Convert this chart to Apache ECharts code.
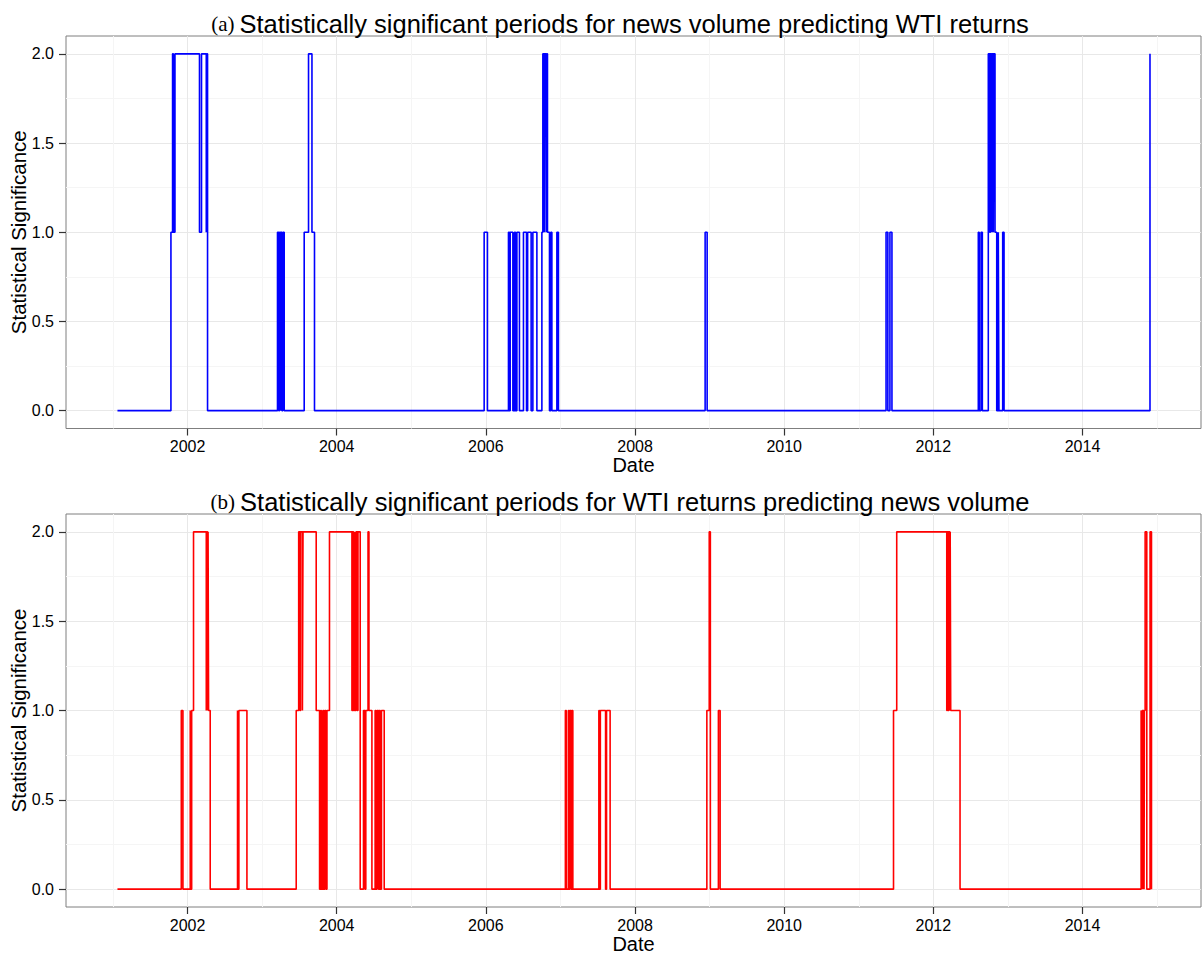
<!DOCTYPE html>
<html>
<head>
<meta charset="utf-8">
<script src="https://cdn.jsdelivr.net/npm/echarts@6/dist/echarts.min.js"></script>
<style>
html,body{margin:0;padding:0;background:#fff;}
#chart{width:1204px;height:953px;}
</style>
</head>
<body>
<div id="chart"></div>
<script>
// ---- data (decimal years where the significance level changes) ----
const datesA = [2001.06,2001.777,2001.799,2001.810,2001.831,2002.160,2002.187,2002.251,2002.258,2002.268,
  2003.206,2003.222,2003.233,2003.245,2003.253,2003.265,2003.278,2003.296,
  2003.564,2003.622,2003.668,2003.702,2005.977,2006.021,
  2006.303,2006.316,2006.326,2006.362,2006.383,2006.397,2006.416,2006.450,2006.504,2006.545,2006.560,2006.607,
  2006.630,2006.684,2006.751,2006.764,2006.782,2006.790,2006.808,2006.815,2006.826,2006.853,2006.870,2006.885,
  2006.952,2006.973,2008.940,2008.967,2011.366,2011.390,2011.418,2011.445,
  2012.603,2012.615,2012.639,2012.657,2012.737,2012.755,2012.765,2012.783,2012.790,2012.804,2012.812,2012.827,
  2012.850,2012.871,2012.880,2012.930,2012.948,2014.905];
const levelsA = [0,1,2,1,2,1,2,1,2,0,
  1,0,1,0,1,0,1,0,
  1,2,1,0,1,0,
  1,0,1,0,1,0,1,0,1,0,1,0,
  1,0,1,2,1,2,1,2,1,0,1,0,
  1,0,1,0,1,0,1,0,
  1,0,1,0,2,1,2,1,2,1,2,1,
  0,1,0,1,0,2];

const datesB = [2001.06,2001.916,2001.938,2002.036,2002.045,2002.055,2002.080,2002.251,2002.258,2002.268,2002.275,2002.282,2002.304,
  2002.670,2002.678,2002.688,2002.796,
  2003.457,2003.490,2003.505,2003.515,2003.540,2003.548,2003.725,2003.770,2003.785,2003.795,2003.815,2003.825,2003.840,2003.855,2003.869,2003.903,
  2004.204,2004.215,2004.225,2004.240,2004.248,2004.260,2004.275,2004.285,2004.315,
  2004.359,2004.380,2004.390,2004.420,2004.432,2004.472,2004.515,2004.525,2004.539,2004.560,2004.570,2004.583,2004.600,2004.637,
  2007.066,2007.079,2007.107,2007.120,2007.130,2007.145,2007.155,2007.166,
  2007.515,2007.525,2007.535,2007.605,2007.618,2007.666,
  2008.963,2008.995,2009.010,2009.118,2009.141,
  2011.466,2011.509,2012.180,2012.190,2012.200,2012.210,2012.220,2012.226,2012.233,2012.358,
  2014.786,2014.795,2014.800,2014.810,2014.815,2014.825,2014.830,2014.840,2014.862,2014.906,2014.925];
const levelsB = [0,1,0,1,0,1,2,1,2,1,2,1,0,
  1,0,1,0,
  1,2,1,2,1,2,1,0,1,0,1,0,1,0,1,2,
  1,2,1,2,1,2,1,2,0,
  1,0,1,2,1,0,1,0,1,0,1,0,1,0,
  1,0,1,0,1,0,1,0,
  1,0,1,0,1,0,
  1,2,0,1,0,
  1,2,1,2,1,2,1,2,1,0,
  1,0,1,0,1,0,1,2,0,2,0];

const xMajorTicks = [2002,2004,2006,2008,2010,2012,2014];
const xMinorTicks = [2001,2003,2005,2007,2009,2011,2013,2015];
const yMajorTicks = [0,0.5,1,1.5,2];
const yMinorTicks = [0.25,0.75,1.25,1.75];

const titleA = 'Statistically significant periods for news volume predicting WTI returns';
const titleB = 'Statistically significant periods for WTI returns predicting news volume';

// ---- chart ----
const zip = (d, v) => d.map((x, i) => [x, v[i]]);
const FONT = 'Liberation Sans';
const X_MIN = 2000.370, X_MAX = 2015.589;

function xAxes(gi) {
  return [{
    type: 'value', gridIndex: gi, min: X_MIN, max: X_MAX,
    name: 'Date', nameLocation: 'middle', nameGap: 26.5, nameMoveOverlap: false,
    nameTextStyle: {fontFamily: FONT, fontSize: 20, color: '#000'},
    axisLine: {show: false, onZero: false},
    axisTick: {show: true, length: 7, lineStyle: {color: '#333', width: 1.2}, customValues: xMajorTicks},
    axisLabel: {customValues: xMajorTicks, formatter: v => String(Math.round(v)),
      fontFamily: FONT, fontSize: 16, color: '#000', margin: 10},
    splitLine: {show: true, lineStyle: {color: '#e8e8e8', width: 1}}
  }, {
    type: 'value', gridIndex: gi, min: X_MIN, max: X_MAX, position: 'top',
    axisLine: {show: false, onZero: false}, axisLabel: {show: false},
    axisTick: {show: false, customValues: xMinorTicks},
    splitLine: {show: true, lineStyle: {color: '#f5f5f5', width: 1}}
  }];
}
function yAxes(gi) {
  return [{
    type: 'value', gridIndex: gi, min: -0.1, max: 2.1,
    name: 'Statistical Significance', nameLocation: 'middle', nameGap: 37, nameMoveOverlap: false,
    nameTextStyle: {fontFamily: FONT, fontSize: 20.5, color: '#000'},
    axisLine: {show: false, onZero: false},
    axisTick: {show: true, length: 7, lineStyle: {color: '#333', width: 1.2}, customValues: yMajorTicks},
    axisLabel: {customValues: yMajorTicks, formatter: v => v.toFixed(1),
      fontFamily: FONT, fontSize: 16, color: '#000', margin: 12},
    splitLine: {show: true, lineStyle: {color: '#e8e8e8', width: 1}}
  }, {
    type: 'value', gridIndex: gi, min: -0.1, max: 2.1, position: 'right',
    axisLine: {show: false, onZero: false}, axisLabel: {show: false},
    axisTick: {show: false, customValues: yMinorTicks},
    splitLine: {show: true, lineStyle: {color: '#f5f5f5', width: 1}}
  }];
}
const richTitle = {
  a: {fontFamily: 'Liberation Serif', fontSize: 21, fontWeight: 'normal', color: '#000', padding: [0, 5, 0, 0]},
  b: {fontFamily: FONT, fontSize: 25.5, fontWeight: 'normal', color: '#000'}
};

const chart = echarts.init(document.getElementById('chart'), null, {renderer: 'svg'});
chart.setOption({
  animation: false,
  backgroundColor: '#ffffff',
  title: [
    {text: '{a|(a)}{b|' + titleA + '}', left: 615, textAlign: 'center', top: 6,
      textStyle: {fontWeight: 'normal', rich: richTitle}},
    {text: '{a|(b)}{b|' + titleB + '}', left: 615, textAlign: 'center', top: 484,
      textStyle: {fontWeight: 'normal', rich: richTitle}}
  ],
  grid: [
    {left: 66, top: 36, width: 1135, height: 392.5, outerBoundsMode: 'none', containLabel: false,
      show: true, borderColor: '#7f7f7f', borderWidth: 1, backgroundColor: '#fff'},
    {left: 66, top: 514, width: 1135, height: 393, outerBoundsMode: 'none', containLabel: false,
      show: true, borderColor: '#7f7f7f', borderWidth: 1, backgroundColor: '#fff'}
  ],
  xAxis: [...xAxes(0), ...xAxes(1)],
  yAxis: [...yAxes(0), ...yAxes(1)],
  series: [
    {type: 'line', xAxisIndex: 0, yAxisIndex: 0, step: 'end', showSymbol: false, symbol: 'none',
      data: zip(datesA, levelsA), lineStyle: {color: '#0000ff', width: 1.6}, z: 5},
    {type: 'line', xAxisIndex: 2, yAxisIndex: 2, step: 'end', showSymbol: false, symbol: 'none',
      data: zip(datesB, levelsB), lineStyle: {color: '#ff0000', width: 1.6}, z: 5}
  ]
});
</script>
</body>
</html>
